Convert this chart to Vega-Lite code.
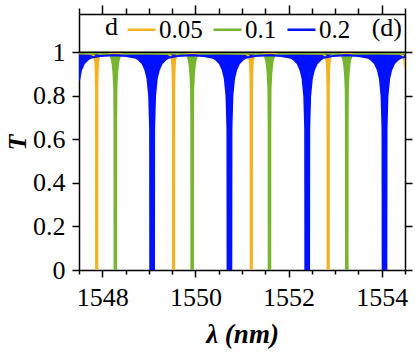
{
  "$schema": "https://vega.github.io/schema/vega-lite/v6.json",
  "width": 326,
  "height": 256,
  "autosize": "none",
  "padding": {"left": 79, "top": 14, "right": 10, "bottom": 85},
  "background": "white",
  "config": {
    "view": {"stroke": null},
    "font": "Liberation Serif"
  },
  "datasets": {
    "spec": [
      {"d":"0.05","x":1547.5,"T":0.996},
      {"d":"0.05","x":1547.76,"T":0.993},{"d":"0.05","x":1547.82,"T":0.985},{"d":"0.05","x":1547.844,"T":0.965},{"d":"0.05","x":1547.853,"T":0.94},{"d":"0.05","x":1547.86,"T":0.90},{"d":"0.05","x":1547.866,"T":0.83},{"d":"0.05","x":1547.867,"T":0},{"d":"0.05","x":1547.893,"T":0},{"d":"0.05","x":1547.894,"T":0.83},{"d":"0.05","x":1547.90,"T":0.90},{"d":"0.05","x":1547.907,"T":0.94},{"d":"0.05","x":1547.916,"T":0.965},{"d":"0.05","x":1547.94,"T":0.985},{"d":"0.05","x":1548.00,"T":0.993},
      {"d":"0.05","x":1548.705,"T":0.997},
      {"d":"0.05","x":1549.41,"T":0.993},{"d":"0.05","x":1549.47,"T":0.985},{"d":"0.05","x":1549.494,"T":0.965},{"d":"0.05","x":1549.503,"T":0.94},{"d":"0.05","x":1549.51,"T":0.90},{"d":"0.05","x":1549.516,"T":0.83},{"d":"0.05","x":1549.517,"T":0},{"d":"0.05","x":1549.543,"T":0},{"d":"0.05","x":1549.544,"T":0.83},{"d":"0.05","x":1549.55,"T":0.90},{"d":"0.05","x":1549.557,"T":0.94},{"d":"0.05","x":1549.566,"T":0.965},{"d":"0.05","x":1549.59,"T":0.985},{"d":"0.05","x":1549.65,"T":0.993},
      {"d":"0.05","x":1550.365,"T":0.997},
      {"d":"0.05","x":1551.08,"T":0.993},{"d":"0.05","x":1551.14,"T":0.985},{"d":"0.05","x":1551.164,"T":0.965},{"d":"0.05","x":1551.173,"T":0.94},{"d":"0.05","x":1551.18,"T":0.90},{"d":"0.05","x":1551.186,"T":0.83},{"d":"0.05","x":1551.187,"T":0},{"d":"0.05","x":1551.213,"T":0},{"d":"0.05","x":1551.214,"T":0.83},{"d":"0.05","x":1551.22,"T":0.90},{"d":"0.05","x":1551.227,"T":0.94},{"d":"0.05","x":1551.236,"T":0.965},{"d":"0.05","x":1551.26,"T":0.985},{"d":"0.05","x":1551.32,"T":0.993},
      {"d":"0.05","x":1552.025,"T":0.997},
      {"d":"0.05","x":1552.73,"T":0.993},{"d":"0.05","x":1552.79,"T":0.985},{"d":"0.05","x":1552.814,"T":0.965},{"d":"0.05","x":1552.823,"T":0.94},{"d":"0.05","x":1552.83,"T":0.90},{"d":"0.05","x":1552.836,"T":0.83},{"d":"0.05","x":1552.837,"T":0},{"d":"0.05","x":1552.863,"T":0},{"d":"0.05","x":1552.864,"T":0.83},{"d":"0.05","x":1552.87,"T":0.90},{"d":"0.05","x":1552.877,"T":0.94},{"d":"0.05","x":1552.886,"T":0.965},{"d":"0.05","x":1552.91,"T":0.985},{"d":"0.05","x":1552.97,"T":0.993},
      {"d":"0.05","x":1553.69,"T":0.997},
      {"d":"0.05","x":1554.40,"T":0.993},{"d":"0.05","x":1554.46,"T":0.985},{"d":"0.05","x":1554.484,"T":0.965},{"d":"0.05","x":1554.5,"T":0.93},

      {"d":"0.1","x":1547.5,"T":0.996},
      {"d":"0.1","x":1548.10,"T":0.993},{"d":"0.1","x":1548.175,"T":0.985},{"d":"0.1","x":1548.207,"T":0.965},{"d":"0.1","x":1548.225,"T":0.94},{"d":"0.1","x":1548.242,"T":0.90},{"d":"0.1","x":1548.257,"T":0.83},{"d":"0.1","x":1548.262,"T":0.67},{"d":"0.1","x":1548.263,"T":0},{"d":"0.1","x":1548.297,"T":0},{"d":"0.1","x":1548.298,"T":0.67},{"d":"0.1","x":1548.303,"T":0.83},{"d":"0.1","x":1548.318,"T":0.90},{"d":"0.1","x":1548.335,"T":0.94},{"d":"0.1","x":1548.353,"T":0.965},{"d":"0.1","x":1548.385,"T":0.985},{"d":"0.1","x":1548.46,"T":0.993},
      {"d":"0.1","x":1549.105,"T":0.996},
      {"d":"0.1","x":1549.75,"T":0.993},{"d":"0.1","x":1549.825,"T":0.985},{"d":"0.1","x":1549.857,"T":0.965},{"d":"0.1","x":1549.875,"T":0.94},{"d":"0.1","x":1549.892,"T":0.90},{"d":"0.1","x":1549.907,"T":0.83},{"d":"0.1","x":1549.912,"T":0.67},{"d":"0.1","x":1549.913,"T":0},{"d":"0.1","x":1549.947,"T":0},{"d":"0.1","x":1549.948,"T":0.67},{"d":"0.1","x":1549.953,"T":0.83},{"d":"0.1","x":1549.968,"T":0.90},{"d":"0.1","x":1549.985,"T":0.94},{"d":"0.1","x":1550.003,"T":0.965},{"d":"0.1","x":1550.035,"T":0.985},{"d":"0.1","x":1550.11,"T":0.993},
      {"d":"0.1","x":1550.76,"T":0.996},
      {"d":"0.1","x":1551.41,"T":0.993},{"d":"0.1","x":1551.485,"T":0.985},{"d":"0.1","x":1551.517,"T":0.965},{"d":"0.1","x":1551.535,"T":0.94},{"d":"0.1","x":1551.552,"T":0.90},{"d":"0.1","x":1551.567,"T":0.83},{"d":"0.1","x":1551.572,"T":0.67},{"d":"0.1","x":1551.573,"T":0},{"d":"0.1","x":1551.607,"T":0},{"d":"0.1","x":1551.608,"T":0.67},{"d":"0.1","x":1551.613,"T":0.83},{"d":"0.1","x":1551.628,"T":0.90},{"d":"0.1","x":1551.645,"T":0.94},{"d":"0.1","x":1551.663,"T":0.965},{"d":"0.1","x":1551.695,"T":0.985},{"d":"0.1","x":1551.77,"T":0.993},
      {"d":"0.1","x":1552.42,"T":0.996},
      {"d":"0.1","x":1553.07,"T":0.993},{"d":"0.1","x":1553.145,"T":0.985},{"d":"0.1","x":1553.177,"T":0.965},{"d":"0.1","x":1553.195,"T":0.94},{"d":"0.1","x":1553.212,"T":0.90},{"d":"0.1","x":1553.227,"T":0.83},{"d":"0.1","x":1553.232,"T":0.67},{"d":"0.1","x":1553.233,"T":0},{"d":"0.1","x":1553.267,"T":0},{"d":"0.1","x":1553.268,"T":0.67},{"d":"0.1","x":1553.273,"T":0.83},{"d":"0.1","x":1553.288,"T":0.90},{"d":"0.1","x":1553.305,"T":0.94},{"d":"0.1","x":1553.323,"T":0.965},{"d":"0.1","x":1553.355,"T":0.985},{"d":"0.1","x":1553.43,"T":0.993},
      {"d":"0.1","x":1554.08,"T":0.996},{"d":"0.1","x":1554.5,"T":0.994},

      {"d":"0.2","x":1547.5,"T":0.87},{"d":"0.2","x":1547.545,"T":0.92},{"d":"0.2","x":1547.61,"T":0.95},{"d":"0.2","x":1547.68,"T":0.965},{"d":"0.2","x":1547.75,"T":0.975},{"d":"0.2","x":1547.95,"T":0.983},
      {"d":"0.2","x":1548.235,"T":0.986},
      {"d":"0.2","x":1548.52,"T":0.983},{"d":"0.2","x":1548.72,"T":0.975},{"d":"0.2","x":1548.79,"T":0.965},{"d":"0.2","x":1548.86,"T":0.95},{"d":"0.2","x":1548.925,"T":0.92},{"d":"0.2","x":1548.97,"T":0.88},{"d":"0.2","x":1549.007,"T":0.80},{"d":"0.2","x":1549.027,"T":0.65},{"d":"0.2","x":1549.03,"T":0},{"d":"0.2","x":1549.11,"T":0},{"d":"0.2","x":1549.113,"T":0.65},{"d":"0.2","x":1549.133,"T":0.80},{"d":"0.2","x":1549.17,"T":0.88},{"d":"0.2","x":1549.215,"T":0.92},{"d":"0.2","x":1549.28,"T":0.95},{"d":"0.2","x":1549.35,"T":0.965},{"d":"0.2","x":1549.42,"T":0.975},{"d":"0.2","x":1549.62,"T":0.983},
      {"d":"0.2","x":1549.90,"T":0.986},
      {"d":"0.2","x":1550.18,"T":0.983},{"d":"0.2","x":1550.38,"T":0.975},{"d":"0.2","x":1550.45,"T":0.965},{"d":"0.2","x":1550.52,"T":0.95},{"d":"0.2","x":1550.585,"T":0.92},{"d":"0.2","x":1550.63,"T":0.88},{"d":"0.2","x":1550.667,"T":0.80},{"d":"0.2","x":1550.687,"T":0.65},{"d":"0.2","x":1550.69,"T":0},{"d":"0.2","x":1550.77,"T":0},{"d":"0.2","x":1550.773,"T":0.65},{"d":"0.2","x":1550.793,"T":0.80},{"d":"0.2","x":1550.83,"T":0.88},{"d":"0.2","x":1550.875,"T":0.92},{"d":"0.2","x":1550.94,"T":0.95},{"d":"0.2","x":1551.01,"T":0.965},{"d":"0.2","x":1551.08,"T":0.975},{"d":"0.2","x":1551.28,"T":0.983},
      {"d":"0.2","x":1551.565,"T":0.986},
      {"d":"0.2","x":1551.85,"T":0.983},{"d":"0.2","x":1552.05,"T":0.975},{"d":"0.2","x":1552.12,"T":0.965},{"d":"0.2","x":1552.19,"T":0.95},{"d":"0.2","x":1552.255,"T":0.92},{"d":"0.2","x":1552.30,"T":0.88},{"d":"0.2","x":1552.337,"T":0.80},{"d":"0.2","x":1552.357,"T":0.65},{"d":"0.2","x":1552.36,"T":0},{"d":"0.2","x":1552.44,"T":0},{"d":"0.2","x":1552.443,"T":0.65},{"d":"0.2","x":1552.463,"T":0.80},{"d":"0.2","x":1552.50,"T":0.88},{"d":"0.2","x":1552.545,"T":0.92},{"d":"0.2","x":1552.61,"T":0.95},{"d":"0.2","x":1552.68,"T":0.965},{"d":"0.2","x":1552.75,"T":0.975},{"d":"0.2","x":1552.95,"T":0.983},
      {"d":"0.2","x":1553.23,"T":0.986},
      {"d":"0.2","x":1553.51,"T":0.983},{"d":"0.2","x":1553.71,"T":0.975},{"d":"0.2","x":1553.78,"T":0.965},{"d":"0.2","x":1553.85,"T":0.95},{"d":"0.2","x":1553.915,"T":0.92},{"d":"0.2","x":1553.96,"T":0.88},{"d":"0.2","x":1553.997,"T":0.80},{"d":"0.2","x":1554.017,"T":0.65},{"d":"0.2","x":1554.02,"T":0},{"d":"0.2","x":1554.10,"T":0},{"d":"0.2","x":1554.103,"T":0.65},{"d":"0.2","x":1554.123,"T":0.80},{"d":"0.2","x":1554.16,"T":0.88},{"d":"0.2","x":1554.205,"T":0.92},{"d":"0.2","x":1554.27,"T":0.95},{"d":"0.2","x":1554.34,"T":0.965},{"d":"0.2","x":1554.41,"T":0.975},{"d":"0.2","x":1554.5,"T":0.978}
    ],
    "one": [{"k": 1}]
  },
  "layer": [
    {
      "data": {"name": "spec"},
      "mark": {"type": "area", "clip": true, "opacity": 1},
      "encoding": {
        "x": {"field": "x", "type": "quantitative", "scale": {"domain": [1547.5, 1554.5], "nice": false, "zero": false},
              "axis": {"orient": "bottom", "grid": false, "values": [1547.5,1548,1548.5,1549,1549.5,1550,1550.5,1551,1551.5,1552,1552.5,1553,1553.5,1554,1554.5],
                       "labelExpr": "datum.value % 2 === 0 ? format(datum.value, 'd') : ''",
                       "tickSize": {"condition": {"test": "datum.value % 2 === 0", "value": 7}, "value": 4},
                       "domainColor": "black", "domainWidth": 1.5, "tickColor": "black", "tickWidth": 1.5,
                       "labelFont": "Liberation Serif", "labelFontSize": 26, "labelColor": "black",
                       "labelPadding": 7, "labelOverlap": false, "labelFlush": false,
                       "title": "λ (nm)", "titleFont": "Liberation Serif", "titleColor": "black", "titleFontSize": 27, "titleFontWeight": "bold", "titleFontStyle": "italic", "titlePadding": 11}},
        "y": {"field": "T", "type": "quantitative", "stack": null, "scale": {"domain": [0, 1.176], "nice": false, "zero": false},
              "axis": {"orient": "left", "grid": false, "values": [0, 0.2, 0.4, 0.6, 0.8, 1], "format": "~g", "tickSize": 7, "labelPadding": 7,
                       "domainColor": "black", "domainWidth": 1.5, "tickColor": "black", "tickWidth": 1.5,
                       "labelFont": "Liberation Serif", "labelFontSize": 26, "labelColor": "black",
                       "title": "T", "titleFont": "Liberation Serif", "titleColor": "black", "titleFontSize": 26, "titleFontWeight": "bold", "titleFontStyle": "italic", "titlePadding": 2}},
        "y2": {"datum": 1},
        "color": {"field": "d", "type": "nominal", "scale": {"domain": ["0.05", "0.1", "0.2"], "range": ["#F4B223", "#77B530", "#0011FF"]},
                  "legend": {"orient": "none", "legendX": 47, "legendY": 0, "direction": "horizontal", "title": null,
                             "symbolType": "stroke", "symbolSize": 784, "symbolStrokeWidth": 2.5,
                             "labelFont": "Liberation Serif", "labelFontSize": 25, "labelColor": "black",
                             "labelOffset": 2, "columnPadding": 5, "padding": 0}}
      }
    },
    {
      "data": {"name": "spec"},
      "mark": {"type": "line", "clip": true, "strokeWidth": 2},
      "encoding": {
        "x": {"field": "x", "type": "quantitative",
              "axis": {"orient": "top", "grid": false, "values": [1547.5,1548,1548.5,1549,1549.5,1550,1550.5,1551,1551.5,1552,1552.5,1553,1553.5,1554,1554.5],
                       "labels": false, "title": null, "domainColor": "black", "domainWidth": 1.5, "tickColor": "black", "tickWidth": 1.5,
                       "tickSize": {"condition": {"test": "datum.value % 2 === 0", "value": 9}, "value": 6}}},
        "y": {"field": "T", "type": "quantitative", "stack": null,
              "axis": {"orient": "right", "grid": false, "values": [0, 0.2, 0.4, 0.6, 0.8, 1], "labels": false, "title": null, "tickSize": 7,
                       "domainColor": "black", "domainWidth": 1.5, "tickColor": "black", "tickWidth": 1.5}},
        "color": {"field": "d", "type": "nominal",
                  "legend": {"orient": "none", "legendX": 47, "legendY": 0, "direction": "horizontal", "title": null,
                             "symbolType": "stroke", "symbolSize": 784, "symbolStrokeWidth": 2.5,
                             "labelFont": "Liberation Serif", "labelFontSize": 25, "labelColor": "black",
                             "labelOffset": 2, "columnPadding": 5, "padding": 0}}
      }
    },
    {
      "data": {"name": "one"},
      "mark": {"type": "rule", "color": "black", "strokeWidth": 1.5},
      "encoding": {"y": {"datum": 1, "axis": null}}
    },
    {
      "data": {"name": "one"},
      "mark": {"type": "text", "font": "Liberation Serif", "fontSize": 26, "color": "black", "align": "center", "baseline": "middle"},
      "encoding": {"x": {"datum": 1548.2, "axis": null}, "y": {"datum": 1.114, "axis": null}, "text": {"value": "d"}}
    },
    {
      "data": {"name": "one"},
      "mark": {"type": "text", "font": "Liberation Serif", "fontSize": 26, "color": "black", "align": "center", "baseline": "middle"},
      "encoding": {"x": {"datum": 1554.11, "axis": null}, "y": {"datum": 1.112, "axis": null}, "text": {"value": "(d)"}}
    }
  ],
  "resolve": {"axis": {"x": "independent", "y": "independent"}}
}
